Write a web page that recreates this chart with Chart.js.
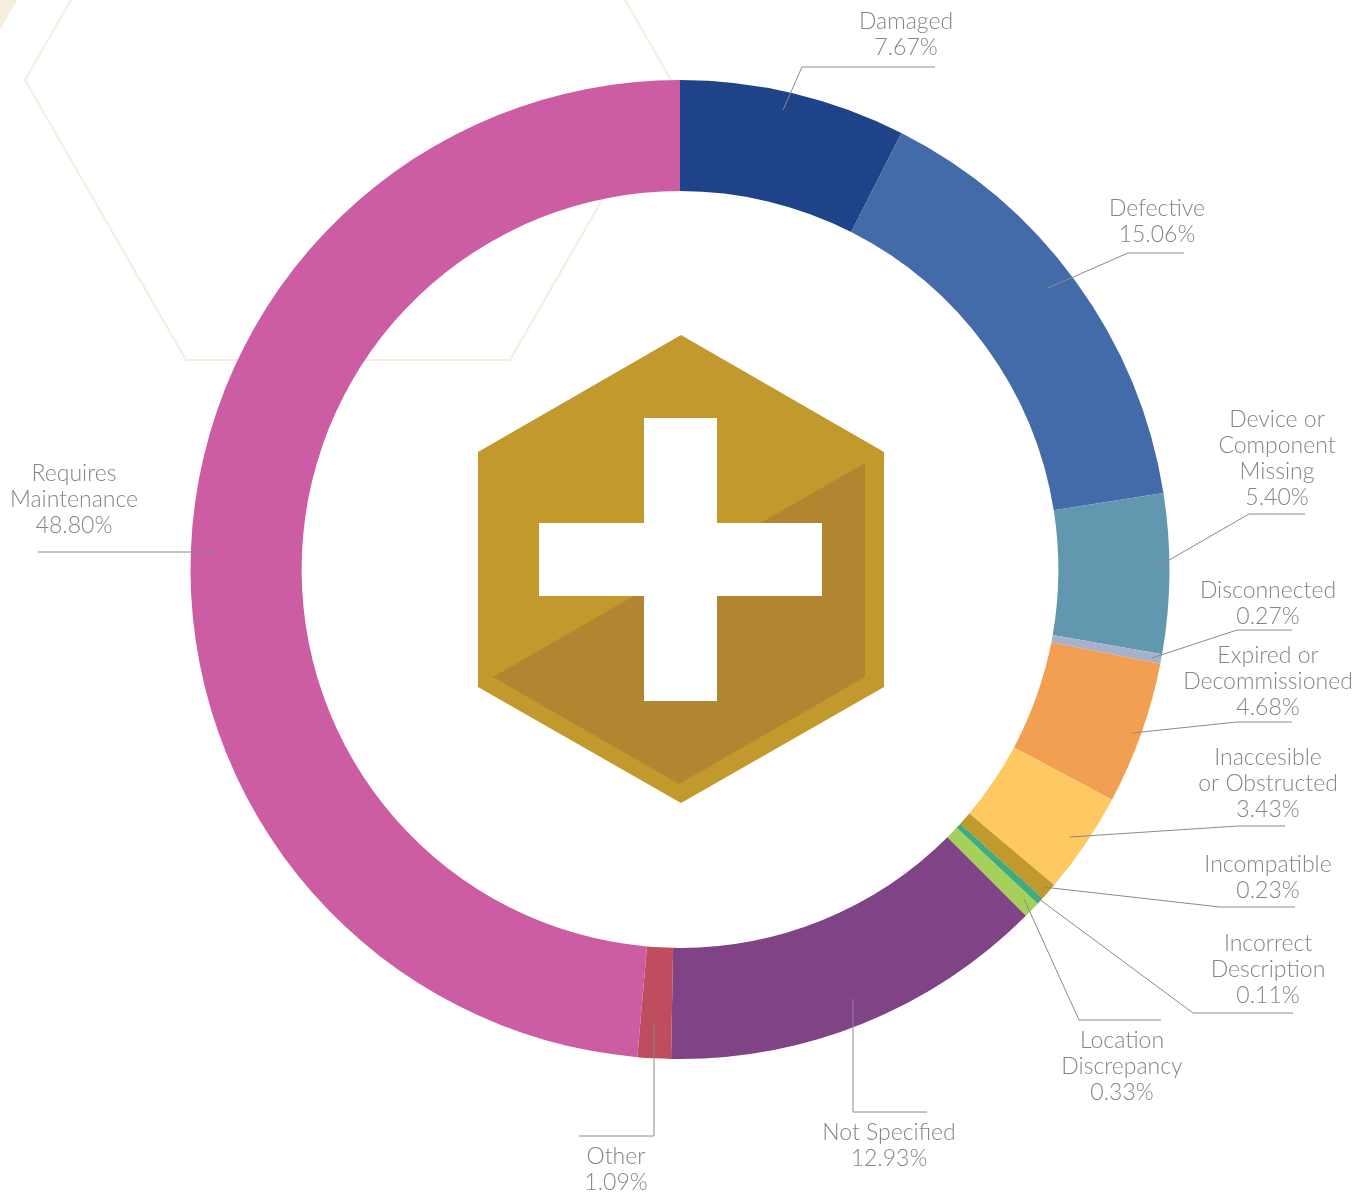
<!DOCTYPE html>
<html>
<head>
<meta charset="utf-8">
<style>html,body{margin:0;padding:0;background:#fff;overflow:hidden}canvas{display:block}</style>
<script src="https://cdn.jsdelivr.net/npm/chart.js@4/dist/chart.umd.min.js"></script>
</head>
<body>
<canvas id="c" width="1372" height="1197"></canvas>
<script>
const categories = ['Damaged','Defective','Device or Component Missing','Disconnected','Expired or Decommissioned','Inaccesible or Obstructed','Incompatible','Incorrect Description','Location Discrepancy','Not Specified','Other','Requires Maintenance'];
// The percentages printed beside each slice in the reference.
const printedPercent = [7.67,15.06,5.40,0.27,4.68,3.43,0.23,0.11,0.33,12.93,1.09,48.80];
// The arc share each slice actually occupies in the reference, measured from its
// slice boundaries (the reference draws its thin slices wider than their printed value).
const drawnShare = [7.47,15.03,5.27,0.31,4.71,3.36,0.57,0.24,0.55,12.78,1.10,48.61];
const colors = ['#1e4388','#446ba9','#6298af','#a6b1cb','#f19f52','#fec863','#c1992d','#3fab80','#a5d05b','#804385','#bf4d5f','#cd5da2'];
const labelLines = [['Damaged'],['Defective'],['Device or','Component','Missing'],['Disconnected'],['Expired or','Decommissioned'],['Inaccesible','or Obstructed'],['Incompatible'],['Incorrect','Description'],['Location','Discrepancy'],['Not Specified'],['Other'],['Requires','Maintenance']];
const labelX = [906,1157,1277,1268,1268,1268,1268,1268,1122,889,616,74];
const labelTopY = [22,209,420,591,656,758,865,944,1041,1133,1157,474];
const leaders = [
 [[783,110],[802,67],[935,67]],
 [[1048,288],[1128,253],[1184,253]],
 [[1157,567],[1249,514],[1305,514]],
 [[1152,658],[1237,630],[1292,630]],
 [[1132,733],[1237,722],[1292,722]],
 [[1070,837],[1238,826],[1285,826]],
 [[1043,887],[1220,907],[1295,907]],
 [[1035,896],[1193,1013],[1293,1013]],
 [[1024,899],[1079,1020],[1161,1020]],
 [[853,999],[853,1112],[927,1112]],
 [[654,1023],[654,1136],[579,1136]],
 [[215,552],[38,552]]
];
function poly(ctx, pts){ctx.beginPath();pts.forEach((p,i)=>i?ctx.lineTo(p[0],p[1]):ctx.moveTo(p[0],p[1]));ctx.closePath();}
const decoration = {
 id:'decoration',
 beforeDraw(chart){
  const ctx=chart.ctx;ctx.save();
  ctx.fillStyle='#fff';ctx.fillRect(0,0,1372,1197);
  ctx.fillStyle='#f5eedf';poly(ctx,[[0,0],[17,0],[0,30]]);ctx.fill();
  ctx.strokeStyle='#f5eedf';ctx.lineWidth=2;
  poly(ctx,[[72,-2],[25,80],[186,360],[510,360],[671,80],[624,-2]]);ctx.stroke();
  ctx.fillStyle='#c1992d';poly(ctx,[[681,335],[884,452],[884,687],[681,803],[478,687],[478,452]]);ctx.fill();
  ctx.fillStyle='#b28630';poly(ctx,[[865,463],[865,677],[679,784],[493,677]]);ctx.fill();
  ctx.fillStyle='#fff';ctx.fillRect(644,418,73,283);ctx.fillRect(539,523,283,73);
  ctx.restore();
 },
 afterDraw(chart){
  const ctx=chart.ctx;ctx.save();
  ctx.strokeStyle='#8a8a8a';ctx.lineWidth=1;
  leaders.forEach(l=>{ctx.beginPath();l.forEach((p,i)=>i?ctx.lineTo(p[0],p[1]):ctx.moveTo(p[0],p[1]));ctx.stroke();});
  ctx.fillStyle='#858585';ctx.font='300 23px Lato';ctx.textAlign='center';ctx.textBaseline='middle';
  labelLines.forEach((lines,i)=>{
   const all=lines.concat(printedPercent[i].toFixed(2)+'%');
   all.forEach((t,j)=>ctx.fillText(t,labelX[i],labelTopY[i]+j*26));
  });
  ctx.restore();
 }
};
new Chart(document.getElementById('c'),{
 type:'doughnut',
 data:{labels:categories,datasets:[{data:drawnShare,backgroundColor:colors,borderWidth:0}]},
 options:{
  responsive:false,animation:false,cutout:'77.3%',
  layout:{padding:{left:190,right:202,top:80,bottom:138}},
  plugins:{legend:{display:false},tooltip:{enabled:false}}
 },
 plugins:[decoration]
});
</script>
</body>
</html>
